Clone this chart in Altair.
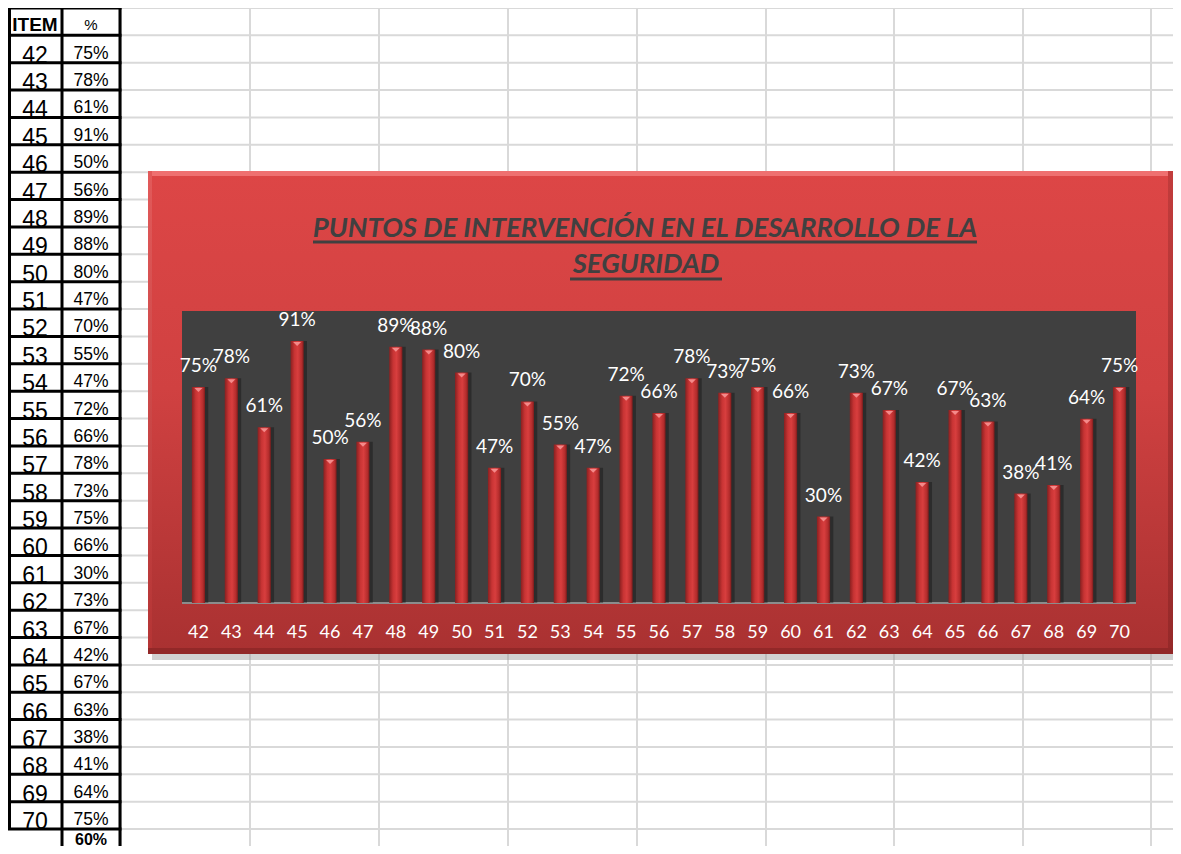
import altair as alt
import pandas as pd

# ---------------- data ----------------
items = list(range(42, 71))
values = [75, 78, 61, 91, 50, 56, 89, 88, 80, 47, 70, 55, 47, 72, 66,
          78, 73, 75, 66, 30, 73, 67, 42, 67, 63, 38, 41, 64, 75]
average_text = "60%"
header = ["ITEM", "%"]
title_lines = ["PUNTOS DE INTERVENCIÓN EN EL DESARROLLO DE LA", "SEGURIDAD"]

# ---------------- layout (view pixels) ----------------
W, H = 1165, 838
ROW = 27.37
N_ROWS = H / ROW
sheet_cols = [113, 242, 371, 500, 629, 758, 886, 1015, 1143]
table_cols = [1.5, 54, 112]
ITEM_X, PCT_X = 27, 83
BOX = (140, 1165, 163, 646)
PLOT = (174, 1128, 303, 595)
Y_TOP = 307

df = pd.DataFrame({"item": items, "value": values})
df["row"] = list(range(1, len(items) + 1))
df["rb"] = df["row"] + 1
df["label"] = df["value"].astype(str) + "%"
df["item_label"] = df["item"].astype(str)

one = pd.DataFrame({"a": [0]})

row_scale = alt.Scale(domain=[0, N_ROWS], range=[0, H], nice=False, zero=False)
xs = alt.Scale(domain=[items[0] - 0.5, items[-1] + 0.5], range=[PLOT[0], PLOT[1]], nice=False, zero=False)
ys = alt.Scale(domain=[0, 100], range=[PLOT[3], Y_TOP], nice=False)


def rect(x, x2, y, y2, **mark):
    return alt.Chart(one).mark_rect(**mark).encode(
        x=alt.value(x), x2=alt.value(x2), y=alt.value(y), y2=alt.value(y2))


def grad(stops, vertical=True):
    g = {"gradient": "linear", "stops": [{"offset": o, "color": c} for o, c in stops]}
    if vertical:
        g.update(x1=0, x2=0, y1=0, y2=1)
    else:
        g.update(x1=0, x2=1, y1=0, y2=0)
    return g


layers = []

# spreadsheet grid
hgrid = pd.DataFrame({"k": list(range(0, 31))})
layers.append(alt.Chart(hgrid).mark_rule(color="#d9d9d9", strokeWidth=2).encode(
    x=alt.value(113), x2=alt.value(W), y=alt.Y("k:Q", scale=row_scale, axis=None)))
vgrid = pd.DataFrame({"cx": sheet_cols})
layers.append(alt.Chart(vgrid).mark_rule(color="#d9d9d9", strokeWidth=2).encode(
    x=alt.X("cx:Q", scale=None, axis=None), y=alt.value(0), y2=alt.value(H)))

# chart box with bevel
layers.append(rect(BOX[0] + 4, BOX[1], BOX[2] + 5, BOX[3] + 6, color="#9a9a9a", opacity=0.45))
layers.append(rect(BOX[0], BOX[1], BOX[2], BOX[3],
                   color=grad([(0, "#dd4646"), (0.45, "#d04141"), (1, "#a93131")])))
layers.append(rect(BOX[0], BOX[1], BOX[2], BOX[2] + 5, color="#ef7070"))
layers.append(rect(BOX[0], BOX[0] + 4, BOX[2], BOX[3], color=grad([(0, "#e25a5a"), (1, "#b43434")])))
layers.append(rect(BOX[1] - 5, BOX[1], BOX[2], BOX[3], color=grad([(0, "#c23c3c"), (1, "#952929")])))
layers.append(rect(BOX[0], BOX[1], BOX[3] - 6, BOX[3], color="#922828"))

# plot area
layers.append(rect(PLOT[0], PLOT[1], PLOT[2], PLOT[3], color="#404040"))
layers.append(alt.Chart(one).mark_rule(color="#8c8c8c", strokeWidth=2).encode(
    x=alt.value(PLOT[0]), x2=alt.value(PLOT[1]), y=alt.value(PLOT[3])))

base = alt.Chart(df).transform_calculate(
    x0="datum.item - 0.2", x1="datum.item + 0.2",
    s0="datum.item - 0.12", s1="datum.item + 0.3")

# bar shadows
layers.append(base.mark_rect(color="#000000", opacity=0.3).encode(
    x=alt.X("s0:Q", scale=xs, axis=None), x2="s1:Q",
    y=alt.Y("value:Q", scale=ys, axis=None), y2=alt.datum(0)))
# bars
layers.append(base.mark_rect(color=grad([(0, "#8a2020"), (0.3, "#c83434"), (0.55, "#d83e3e"),
                                         (0.85, "#b32c2c"), (1, "#7a1c1c")], vertical=False)).encode(
    x=alt.X("x0:Q", scale=xs, axis=None), x2="x1:Q",
    y=alt.Y("value:Q", scale=ys, axis=None), y2=alt.datum(0)))
# bar caps
layers.append(alt.Chart(df).mark_point(shape="M-1,-0.5L1,-0.5L0,0.5Z", filled=True, size=64,
                                       color="#f48a8a", opacity=1, yOffset=3).encode(
    x=alt.X("item:Q", scale=xs, axis=None), y=alt.Y("value:Q", scale=ys, axis=None)))
# data labels
layers.append(alt.Chart(df).mark_text(color="white", font="Lato", fontSize=19,
                                      baseline="alphabetic", dy=-15).encode(
    x=alt.X("item:Q", scale=xs, axis=None), y=alt.Y("value:Q", scale=ys, axis=None),
    text="label:N"))
# category labels
layers.append(alt.Chart(df).mark_text(color="white", font="Lato", fontSize=18,
                                      baseline="middle").encode(
    x=alt.X("item:Q", scale=xs, axis=None), y=alt.value(625), text="item_label:N"))

# title
title_font = dict(font="Lato", fontSize=27.5, fontWeight="bold", fontStyle="italic",
                  color="#404040", align="center", baseline="alphabetic")
layers.append(alt.Chart(one).mark_text(text=title_lines[0], **title_font).encode(
    x=alt.value(637), y=alt.value(229)))
layers.append(alt.Chart(one).mark_text(text=title_lines[1], **title_font).encode(
    x=alt.value(638), y=alt.value(265)))
layers.append(alt.Chart(one).mark_rule(color="#404040", strokeWidth=3).encode(
    x=alt.value(305), x2=alt.value(969), y=alt.value(234)))
layers.append(alt.Chart(one).mark_rule(color="#404040", strokeWidth=3).encode(
    x=alt.value(562), x2=alt.value(714), y=alt.value(271)))

# data table borders
trows = pd.DataFrame({"k": list(range(0, 31))})
layers.append(alt.Chart(trows).mark_rule(color="black", strokeWidth=3).encode(
    x=alt.value(0), x2=alt.value(113.5), y=alt.Y("k:Q", scale=row_scale, axis=None)))
tcols = pd.DataFrame({"cx": table_cols, "r0": [0, 0, 0], "r1": [30, N_ROWS, N_ROWS]})
layers.append(alt.Chart(tcols).mark_rule(color="black", strokeWidth=3).encode(
    x=alt.X("cx:Q", scale=None, axis=None),
    y=alt.Y("r0:Q", scale=row_scale, axis=None), y2="r1:Q"))

narrow = "Liberation Sans Narrow, Arial Narrow, Liberation Sans, Arial, sans-serif"
hdr = pd.DataFrame({"t": header, "cx": [ITEM_X, PCT_X], "rb": [1, 1]})
layers.append(alt.Chart(hdr.iloc[[0]]).mark_text(font=narrow, fontSize=19, fontWeight="bold",
                                                 color="black", baseline="alphabetic", dy=-4).encode(
    x=alt.X("cx:Q", scale=None, axis=None), y=alt.Y("rb:Q", scale=row_scale, axis=None), text="t:N"))
layers.append(alt.Chart(hdr.iloc[[1]]).mark_text(font=narrow, fontSize=15,
                                                 color="black", baseline="alphabetic", dy=-5).encode(
    x=alt.X("cx:Q", scale=None, axis=None), y=alt.Y("rb:Q", scale=row_scale, axis=None), text="t:N"))
layers.append(alt.Chart(df).mark_text(font=narrow, fontSize=23, color="black",
                                      baseline="alphabetic", dy=0).encode(
    x=alt.value(ITEM_X), y=alt.Y("rb:Q", scale=row_scale, axis=None), text="item_label:N"))
layers.append(alt.Chart(df).mark_text(font=narrow, fontSize=17.5, color="black",
                                      baseline="alphabetic", dy=-4).encode(
    x=alt.value(PCT_X), y=alt.Y("rb:Q", scale=row_scale, axis=None), text="label:N"))
avg = pd.DataFrame({"t": [average_text], "rb": [31]})
layers.append(alt.Chart(avg).mark_text(font=narrow, fontSize=16, fontWeight="bold", color="black",
                                       baseline="alphabetic", dy=-11).encode(
    x=alt.value(PCT_X), y=alt.Y("rb:Q", scale=row_scale, axis=None), text="t:N"))

chart = alt.layer(*layers).resolve_scale(x="independent", y="independent").properties(
    width=W, height=H, autosize="none", padding=0, background="white"
).configure_view(stroke=None)

chart.save("out.html", embed_options={"renderer": "svg", "actions": False})
